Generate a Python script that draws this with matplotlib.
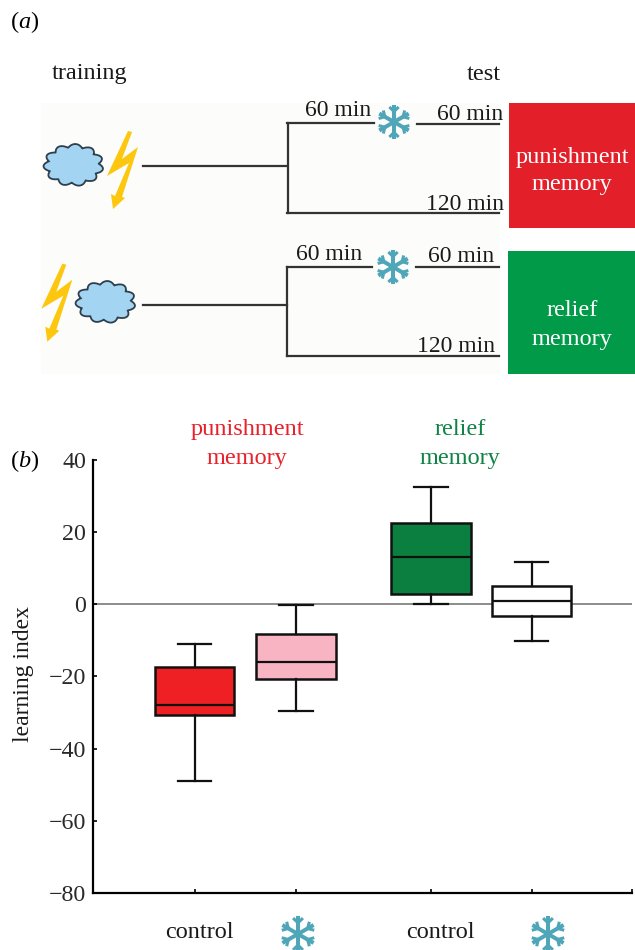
import numpy as np
import matplotlib
matplotlib.use("Agg")
import matplotlib.pyplot as plt
from matplotlib.patches import Polygon, Rectangle

plt.rcParams['font.family'] = ['Liberation Serif', 'DejaVu Serif']
plt.rcParams['mathtext.fontset'] = 'custom'
plt.rcParams['mathtext.rm'] = 'Liberation Serif'
plt.rcParams['mathtext.it'] = 'Liberation Serif:italic'

# box values
positions = [1, 2, 3.33, 4.32]
whisker_low = [-48.9, -29.6, 0.0, -10.2]
q1 = [-30.6, -20.7, 2.9, -3.2]
median = [-27.8, -16.1, 13.2, 0.8]
q3 = [-17.4, -8.2, 22.5, 5.0]
whisker_high = [-11.0, -0.3, 32.6, 11.6]
box_colors = ['#ee2024', '#f9b4c4', '#0b7f40', '#ffffff']
y_ticks = [-80, -60, -40, -20, 0, 20, 40]
x_ticks = [1, 2, 3.33, 4.32, 5.31]

# panel a, in pixels of the figure
stems = [(143, 166, 287), (143, 305, 287)]
forks = [(287.5, 122.5, 213), (287, 266.5, 356)]
branches = [(287, 374, 122.5), (417, 499, 123.5), (287, 499, 212.5),
            (287, 372, 266.5), (416, 499, 267), (287, 499, 356)]
time_labels = [(338, 111, '60 min'), (470, 115, '60 min'), (465, 205, '120 min'),
               (329, 254, '60 min'), (461, 257, '60 min'), (456, 347, '120 min')]
bolt = [(128, 131), (132, 132), (122, 159), (138, 147), (122, 197), (125, 198),
        (113, 209), (111, 194), (115, 196), (129, 163), (107, 176)]

fig = plt.figure(figsize=(6.35, 9.5), dpi=100)
over = fig.add_axes([0, 0, 1, 1])
over.set_xlim(0, 635)
over.set_ylim(950, 0)
over.axis('off')


def cloud(ax, cx, cy, w, h):
    t = np.linspace(0, 2 * np.pi, 400)
    r = 0.84 + 0.16 * np.abs(np.sin(5.5 * t + 0.4))
    pts = np.column_stack([cx + w / 2 * r * np.cos(t), cy + h / 2 * r * np.sin(t)])
    ax.add_patch(Polygon(pts, closed=True, fc='#a3d4f2', ec='#2e3f4d', lw=1.3, zorder=3))


def flake(ax, cx, cy, size):
    col = '#4fa6b8'
    for a in np.radians([90, 30, -30, -90, 150, 210]):
        ux, uy = np.cos(a), np.sin(a)
        ax.plot([cx, cx + size * ux], [cy, cy + size * uy], color=col, lw=2.9,
                solid_capstyle='butt', zorder=3)
        bx, by = cx + size * 0.62 * ux, cy + size * 0.62 * uy
        for d in [-0.8, 0.8]:
            vx, vy = np.cos(a + d), np.sin(a + d)
            ax.plot([bx, bx + size * 0.38 * vx], [by, by + size * 0.38 * vy],
                    color=col, lw=2.2, solid_capstyle='butt', zorder=3)


over.add_patch(Rectangle((41, 103), 459, 271, fc='#fcfcfa', ec='none', zorder=0))
over.add_patch(Rectangle((509, 103), 126, 125, fc='#e3202a', ec='none', zorder=1))
over.add_patch(Rectangle((508, 251), 127, 123, fc='#009a49', ec='none', zorder=1))

line_col = '#333333'
for x0, y, x1 in stems:
    over.plot([x0, x1], [y, y], color=line_col, lw=1.6, zorder=2)
for x, y0, y1 in forks:
    over.plot([x, x], [y0, y1], color=line_col, lw=1.6, zorder=2)
for x0, x1, y in branches:
    over.plot([x0, x1], [y, y], color=line_col, lw=1.6, zorder=2)
for x, y, s in time_labels:
    over.text(x, y, s, fontsize=17, ha='center', va='center', color='#1a1a1a', zorder=4)

cloud(over, 73.5, 165, 60, 42)
cloud(over, 105.5, 302, 60, 42)
over.add_patch(Polygon(bolt, closed=True, fc='#fdc70f', ec='none', zorder=3))
over.add_patch(Polygon([(x - 65.7, y + 132.7) for x, y in bolt], closed=True,
                       fc='#fdc70f', ec='none', zorder=3))
flake(over, 394, 122, 17)
flake(over, 393, 267, 17)
flake(over, 298, 934, 18)
flake(over, 548, 934, 18)

over.text(10, 22, r'($\mathit{a}$)', fontsize=17.5, ha='left', va='center')
over.text(10, 461, r'($\mathit{b}$)', fontsize=17.5, ha='left', va='center')
over.text(89.5, 74, 'training', fontsize=17.5, ha='center', va='center', color='#1a1a1a')
over.text(484, 74, 'test', fontsize=17.5, ha='center', va='center', color='#1a1a1a')
over.text(572, 171, 'punishment\nmemory', fontsize=17.5, ha='center', va='center',
          color='white', linespacing=1.4, zorder=4)
over.text(572, 325, 'relief\nmemory', fontsize=17.5, ha='center', va='center',
          color='white', linespacing=1.5, zorder=4)
over.text(247, 444, 'punishment\nmemory', fontsize=17.5, ha='center', va='center',
          color='#e8212b', linespacing=1.45)
over.text(460, 444, 'relief\nmemory', fontsize=17.5, ha='center', va='center',
          color='#0f8345', linespacing=1.45)
over.text(199, 933, 'control', fontsize=17.5, ha='center', va='center', color='#1a1a1a')
over.text(440, 933, 'control', fontsize=17.5, ha='center', va='center', color='#1a1a1a')

# panel b
ax = fig.add_axes([93 / 635, 1 - 893 / 950, 539 / 635, 433 / 950])
ax.patch.set_alpha(0)
stats = []
for i in range(len(positions)):
    stats.append({'whislo': whisker_low[i], 'q1': q1[i], 'med': median[i],
                  'q3': q3[i], 'whishi': whisker_high[i], 'fliers': []})
ax.axhline(0, color='#8c8c8c', lw=1.4, zorder=1)
parts = ax.bxp(stats, positions=positions, widths=0.78, capwidths=0.33, patch_artist=True,
               showfliers=False, manage_ticks=False, zorder=3,
               boxprops={'lw': 1.8, 'edgecolor': '#111111'},
               medianprops={'lw': 1.6, 'color': '#111111'},
               whiskerprops={'lw': 1.6, 'color': '#111111'},
               capprops={'lw': 1.6, 'color': '#111111'})
for box, c in zip(parts['boxes'], box_colors):
    box.set_facecolor(c)

ax.set_xlim(0, 5.31)
ax.set_ylim(-80, 40)
ax.set_xticks(x_ticks)
ax.set_xticklabels([])
ax.set_yticks(y_ticks)
ax.set_yticklabels([str(v).replace('-', '\u2212') for v in y_ticks], fontsize=17.3, color='#2a2a2a')
ax.tick_params(axis='both', direction='in', length=3, width=1.2, pad=5)
for s in ['top', 'right']:
    ax.spines[s].set_visible(False)
for s in ['left', 'bottom']:
    ax.spines[s].set_linewidth(1.6)
ax.set_ylabel('learning index', fontsize=17, color='#1a1a1a')
ax.yaxis.set_label_coords(-0.11, 0.505)

fig.savefig('out.png', dpi=100)
